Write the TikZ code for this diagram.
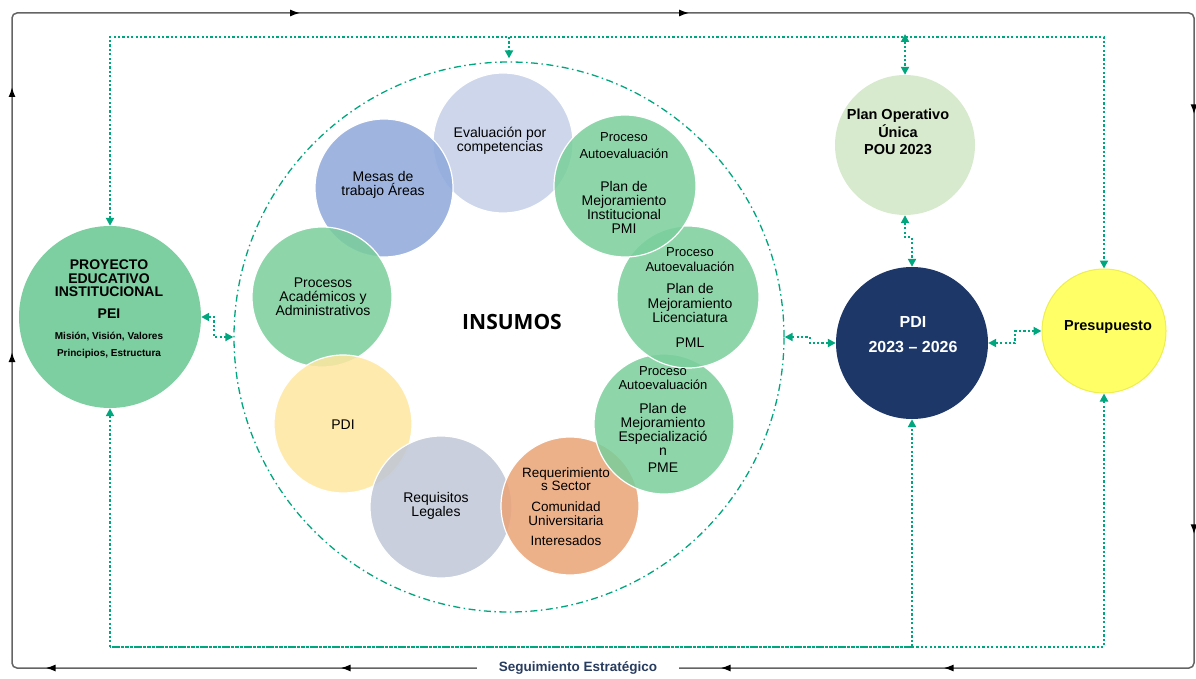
\documentclass[tikz,border=0pt]{standalone}
\usepackage{fontspec}
\setmainfont{Liberation Sans}
\newfontfamily\insfont{Open Sans}
\usetikzlibrary{arrows.meta,decorations.markings,calc}
\definecolor{tealc}{RGB}{0,166,125}
\definecolor{cGreen}{RGB}{122,207,155}
\definecolor{cPEI}{RGB}{125,206,160}
\definecolor{cEval}{RGB}{196,207,232}
\definecolor{cMesas}{RGB}{142,168,219}
\definecolor{cPDIy}{RGB}{255,230,160}
\definecolor{cReq}{RGB}{191,199,214}
\definecolor{cReqs}{RGB}{234,163,118}
\definecolor{cPOU}{RGB}{216,234,206}
\definecolor{cPDI}{RGB}{30,55,105}
\definecolor{cPres}{RGB}{255,255,102}
\definecolor{cPresB}{RGB}{238,238,80}
\definecolor{cSeg}{RGB}{40,60,95}
\definecolor{cFrame}{RGB}{100,100,100}
\tikzset{
  bub/.style={circle, draw=white, line width=1.2pt, fill opacity=0.85, inner sep=0pt, minimum size=#1},
  bigc/.style={circle, inner sep=0pt, minimum size=#1},
  lbl/.style={align=center, inner sep=0pt, font=\fontsize{14}{14}\selectfont},
  blbl/.style={align=center, inner sep=0pt, font=\bfseries\fontsize{14.5}{17.5}\selectfont},
  dl/.style={draw=tealc, line width=2.2pt, dash pattern=on 2.2pt off 2.2pt,
     >={Triangle[length=8pt,width=8pt]}},
  framepath/.style={draw=cFrame, line width=1.5pt, rounded corners=5pt},
  ftip/.style={black, Latex[length=10pt,width=7pt]},
}
\begin{document}
\begin{tikzpicture}[x=1pt,y=-1pt]
\useasboundingbox (0,0) rectangle (1196,679);

% outer frame with arrows
\draw[framepath, postaction={decorate}, decoration={markings,
   mark=at position 311pt with {\arrow[black]{Latex[length=10pt,width=7pt]}},
   mark=at position 576pt with {\arrow[black]{Latex[length=10pt,width=7pt]}},
   mark=at position 936pt with {\arrow[black]{Latex[length=10pt,width=7pt]}},
   mark=at position 1325pt with {\arrow[black]{Latex[length=10pt,width=7pt]}},
   mark=at position 1929pt with {\arrow[black]{Latex[length=10pt,width=7pt]}},
   mark=at position 2349pt with {\arrow[black]{Latex[length=10pt,width=7pt]}},
   mark=at position 2731pt with {\arrow[black]{Latex[length=10pt,width=7pt]}},
   mark=at position 2954pt with {\arrow[black]{Latex[length=10pt,width=7pt]}},
   mark=at position 3334pt with {\arrow[black]{Latex[length=10pt,width=7pt]}},
   mark=at position 3629pt with {\arrow[black]{Latex[length=10pt,width=7pt]}}}]
  (12,668) -- (12,13) -- (1194,13) -- (1194,668) -- cycle;
\node[fill=white, inner xsep=22pt, inner ysep=3pt, text=cSeg, font=\bfseries\fontsize{13.5}{14}\selectfont] (seg) at (578,668) {Seguimiento Estratégico};

% INSUMOS dash-dot circle
\node[bigc=550, draw=tealc, line width=1.3pt, dash pattern=on 7pt off 3.5pt on 1.5pt off 3.5pt] (ins) at (509,337) {};

% inner bubbles
\node[bub=140, fill=cEval] (eval) at (503,143) {};
\node[bub=138, fill=cMesas] (mesas) at (384,188) {};
\node[bub=140, fill=cGreen] (proc) at (322,297) {};
\node[bub=138, fill=cPDIy] (pdiy) at (343,424) {};
\node[bub=142, fill=cReq] (req) at (441,507) {};
\node[bub=138, fill=cReqs] (reqs) at (570,506) {};
\node[bub=140, fill=cGreen] (pme) at (664,424) {};
\node[bub=142, fill=cGreen] (pml) at (688,297) {};
\node[bub=142, fill=cGreen] (pmi) at (625,186) {};

\node[lbl] (tEval) at (500,141) {Evaluación por\\competencias};
\node[lbl] (tMesas) at (383,185) {Mesas de\\trabajo Áreas};
\node[lbl] (tProc) at (323,297) {Procesos\\Académicos y\\Administrativos};
\node[lbl] (tPdiy) at (343,425) {PDI};
\node[lbl] (tReq) at (436,506) {Requisitos\\Legales};
\node[lbl, font=\fontsize{13.5}{13}\selectfont] (tReqs) at (566,507) {Requerimiento\\s Sector\\[8pt]Comunidad\\[1pt]Universitaria\\[7pt]Interesados};
\node[lbl] (tPmi) at (624,183) {{\fontsize{13}{14}\selectfont Proceso}\\[3pt]{\fontsize{13}{14}\selectfont Autoevaluación}\\[19pt]Plan de\\Mejoramiento\\Institucional\\PMI};
\node[lbl] (tPml) at (690,298) {{\fontsize{13}{14}\selectfont Proceso}\\[1pt]{\fontsize{13}{14}\selectfont Autoevaluación}\\[8pt]Plan de\\[1pt]Mejoramiento\\Licenciatura\\[11pt]PML};
\node[lbl] (tPme) at (663,420) {{\fontsize{13}{14}\selectfont Proceso}\\{\fontsize{13}{14}\selectfont Autoevaluación}\\[10pt]Plan de\\Mejoramiento\\Especializació\\n\\[3pt]PME};

\node[inner sep=0pt, font=\insfont\bfseries\fontsize{21}{24}\selectfont] (insT) at (512,322) {INSUMOS};

% outer circles
\node[bigc=182, fill=cPEI] (pei) at (110,317) {};
\node[blbl, font=\bfseries\fontsize{14}{13.5}\selectfont] (tPei) at (109,309) {PROYECTO\\EDUCATIVO\\INSTITUCIONAL\\[8pt]PEI\\[8pt]{\fontsize{10}{15}\selectfont Misión, Visión, Valores}\\[3pt]{\fontsize{10}{15}\selectfont Principios, Estructura}};

\node[bigc=140, fill=cPOU] (pou) at (905,145) {};
\node[blbl] (tPou) at (898,132) {Plan Operativo\\Única\\POU 2023};

\node[bigc=152, fill=cPDI] (pdi) at (912,343) {};
\node[blbl, text=white, font=\bfseries\fontsize{16}{25}\selectfont] (tPdi) at (913,335) {PDI\\2023 – 2026};

\node[bigc=124, fill=cPres, draw=cPresB, line width=1pt] (pres) at (1104,331) {};
\node[blbl] (tPres) at (1108,327) {Presupuesto};

% dotted connectors
\coordinate (tr) at (1104,37);
\coordinate (bl) at (110,647);
\draw[dl,<->] (pei.north) |- (tr) -- (pres.north);
\draw[dl,->] (ins.north |- tr) -- ([yshift=3pt]ins.north);
\draw[dl,<->] ([yshift=3pt]pou.north |- tr) -- (pou.north);
\draw[dl,<->] (pei.east) -- ++(13,0) |- (ins.west);
\draw[dl,<->] (ins.east) -- ++(25,0) |- (pdi.west);
\draw[dl,<->] (pdi.east) -- ++(27,0) |- (pres.west);
\draw[dl,<->] (pou.south) -- ++(0,22) -| (pdi.north);
\draw[dl,<->] (pei.south) -- (bl) -| (pdi.south);
\draw[dl, dash phase=1.1pt] (bl) -- (bl -| pdi.south);
\draw[dl,->] (bl -| pdi.south) -| (pres.south);
\end{tikzpicture}
\end{document}
